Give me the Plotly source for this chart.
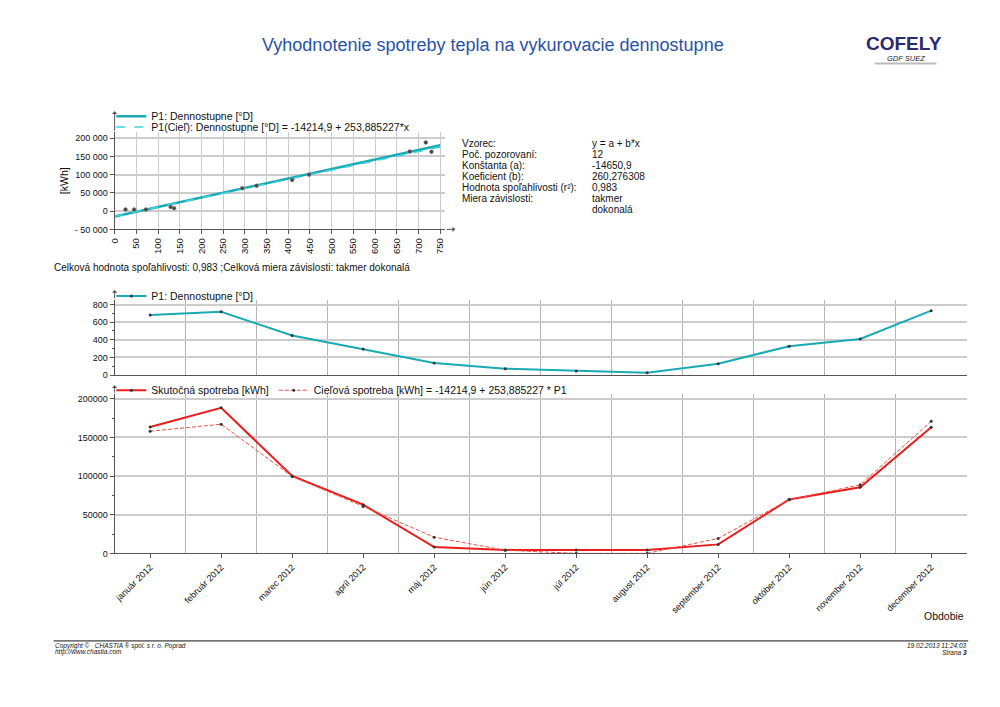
import plotly.graph_objects as go

FONT = "Liberation Sans, Arial, sans-serif"

# ---------------- data ----------------
months = ["január 2012", "február 2012", "marec 2012", "apríl 2012", "máj 2012", "jún 2012",
          "júl 2012", "august 2012", "september 2012", "október 2012", "november 2012", "december 2012"]
degree_days = [680, 717, 448, 294, 137, 72, 45, 25, 129, 327, 409, 730]
actual_kwh = [163600, 188400, 100200, 63000, 8100, 4300, 4300, 4500, 11600, 69800, 85600, 163200]
target_kwh = [158100, 167100, 99500, 60800, 20900, 4000, 0, 0, 19300, 69500, 88700, 171000]

# regression lines (read at x = 0 and x = 750)
fit_x = [0, 750]
fit_y = [-14650.9, 180556]
target_fit_y = [-14214.9, 176199]

scatter_x_ticks = list(range(0, 751, 50))
scatter_y_ticks = [200000, 150000, 100000, 50000, 0, -50000]
scatter_y_text = ["200 000", "150 000", "100 000", "50 000", "0", "- 50 000"]

stat_labels = ["Vzorec:", "Poč. pozorovaní:", "Konštanta (a):", "Koeficient (b):",
               "Hodnota spoľahlivosti (r²):", "Miera závislosti:", ""]
stat_values = ["y = a + b*x", "12", "-14650,9", "260,276308", "0,983", "takmer", "dokonalá"]

TEAL = "#1aaab4"
TEAL_L = "#3fd0d8"
RED = "#ec1c1c"
RED_L = "#f0504a"
MK = "#333333"
GRID = "#cccccc"
VGRID = "#b5b5b5"
AX = "#555555"

W, H = 1000, 707
def px(x): return x / W
def py(y): return 1 - y / H

fig = go.Figure()

# ---- scatter (top-left) ----
fig.add_trace(go.Scatter(x=fit_x, y=fit_y, mode="lines", name="P1: Dennostupne [°D]",
                         line=dict(color=TEAL, width=2.5), xaxis="x", yaxis="y", legend="legend"))
fig.add_trace(go.Scatter(x=fit_x, y=target_fit_y, mode="lines",
                         name="P1(Cieľ): Dennostupne [°D] = -14214,9 + 253,885227*x",
                         line=dict(color=TEAL_L, width=1.5, dash="dash"), xaxis="x", yaxis="y",
                         legend="legend4"))
fig.add_trace(go.Scatter(x=degree_days, y=actual_kwh, mode="markers", showlegend=False,
                         marker=dict(size=4, color="#444444", line=dict(color="#999999", width=0.5)),
                         xaxis="x", yaxis="y"))

# ---- middle: degree days ----
fig.add_trace(go.Scatter(x=list(range(len(months))), y=degree_days, mode="lines+markers",
                         name="P1: Dennostupne [°D]", line=dict(color=TEAL, width=2),
                         marker=dict(size=3, color=MK), xaxis="x2", yaxis="y2", legend="legend2"))

# ---- bottom: consumption ----
fig.add_trace(go.Scatter(x=list(range(len(months))), y=actual_kwh, mode="lines+markers",
                         name="Skutočná spotreba [kWh]", line=dict(color=RED, width=2),
                         marker=dict(size=3, color=MK), xaxis="x3", yaxis="y3", legend="legend3"))
fig.add_trace(go.Scatter(x=list(range(len(months))), y=target_kwh, mode="lines+markers",
                         name="Cieľová spotreba [kWh] = -14214,9 + 253,885227 * P1",
                         line=dict(color=RED_L, width=1, dash="4px,2px"),
                         marker=dict(size=3, color=MK), xaxis="x3", yaxis="y3", legend="legend3"))

tickfont = dict(family=FONT, size=9, color="#111111")
boundaries = [k - 0.5 for k in range(len(months) + 1)]

legend_common = dict(bgcolor="rgba(0,0,0,0)", borderwidth=0, xanchor="left", yanchor="middle",
                     font=dict(family=FONT, size=10.5, color="#111111"), itemclick=False)

fig.update_layout(
    width=W, height=H, margin=dict(l=0, r=0, t=0, b=0),
    paper_bgcolor="white", plot_bgcolor="white",
    font=dict(family=FONT, size=10, color="#111111"),
    xaxis=dict(domain=[px(109.3), px(442)], range=[0, 762], anchor="y",
               tickmode="array", tickvals=scatter_x_ticks, tickangle=-90,
               tickfont=dict(family=FONT, size=9.5, color="#111111"),
               showgrid=True, gridcolor=GRID, gridwidth=1, zeroline=False,
               showline=True, linecolor=AX, ticks="outside", ticklen=4, tickcolor=AX),
    yaxis=dict(domain=[py(231), py(133)], range=[-50000, 217000], anchor="x",
               tickmode="array", tickvals=scatter_y_ticks, ticktext=scatter_y_text, tickfont=tickfont,
               showgrid=True, gridcolor=GRID, gridwidth=1.5, zeroline=False,
               showline=True, linecolor=AX, ticks="outside", ticklen=4, tickcolor=AX,
               title=dict(text="[kWh]", font=dict(family=FONT, size=10.5), standoff=4)),
    xaxis2=dict(domain=[px(109.3), px(966.5)], range=[-0.5, 11.5], anchor="y2",
                tickmode="array", tickvals=list(range(len(months))), showticklabels=False,
                showgrid=False, zeroline=False, showline=True, linecolor=AX, ticks="",
                minor=dict(tickmode="array", tickvals=boundaries, showgrid=True,
                           gridcolor=VGRID, gridwidth=1, ticks="")),
    yaxis2=dict(domain=[py(377.7), py(301.7)], range=[0, 856], anchor="x2",
                tickmode="linear", tick0=0, dtick=200, tickfont=tickfont,
                showgrid=True, gridcolor=GRID, gridwidth=1.5, zeroline=False,
                showline=True, linecolor=AX, ticks="outside", ticklen=4, tickcolor=AX,
                minor=dict(dtick=100, ticks="outside", ticklen=2, tickcolor=AX, showgrid=False)),
    xaxis3=dict(domain=[px(109.3), px(966.5)], range=[-0.5, 11.5], anchor="y3",
                tickmode="array", tickvals=list(range(len(months))), ticktext=months,
                tickangle=-45, tickfont=tickfont,
                showgrid=False, zeroline=False, showline=True, linecolor=AX,
                ticks="outside", ticklen=4, tickcolor=AX,
                minor=dict(tickmode="array", tickvals=boundaries, showgrid=True,
                           gridcolor=VGRID, gridwidth=1, ticks="")),
    yaxis3=dict(domain=[py(557.3), py(396.7)], range=[0, 206400], anchor="x3",
                tickmode="linear", tick0=0, dtick=50000, tickformat="d", tickfont=tickfont,
                showgrid=True, gridcolor=GRID, gridwidth=1.5, zeroline=False,
                showline=True, linecolor=AX, ticks="outside", ticklen=4, tickcolor=AX,
                minor=dict(dtick=25000, ticks="outside", ticklen=2, tickcolor=AX, showgrid=False)),
    legend=dict(x=px(106), y=py(117), **legend_common),
    legend4=dict(x=px(106), y=py(128), **legend_common),
    legend2=dict(x=px(106), y=py(298), **legend_common),
    legend3=dict(x=px(106), y=py(393), orientation="h", **legend_common),
)

ann = []
# title
ann.append(dict(text="Vyhodnotenie spotreby tepla na vykurovacie dennostupne", x=px(490), y=py(45),
                xref="paper", yref="paper", showarrow=False, xanchor="center", yanchor="middle",
                font=dict(family=FONT, size=18, color="#2a52a8")))
# logo
ann.append(dict(text="<b>COFELY</b>", x=px(903), y=py(44), xref="paper", yref="paper",
                showarrow=False, xanchor="center", yanchor="middle",
                font=dict(family=FONT, size=19, color="#2b2a6e")))
ann.append(dict(text="<i>GDF SUEZ</i>", x=px(905), y=py(59), xref="paper", yref="paper",
                showarrow=False, xanchor="center", yanchor="middle",
                font=dict(family=FONT, size=7.5, color="#222222")))
# stats block
for i, (lab, val) in enumerate(zip(stat_labels, stat_values)):
    yy = py(145 + 11 * i)
    if lab:
        ann.append(dict(text=lab, x=px(457), y=yy, xref="paper", yref="paper", showarrow=False,
                        xanchor="left", yanchor="middle", font=dict(family=FONT, size=10)))
    ann.append(dict(text=val, x=px(588), y=yy, xref="paper", yref="paper", showarrow=False,
                    xanchor="left", yanchor="middle", font=dict(family=FONT, size=10)))
ann.append(dict(text="Celková hodnota spoľahlivosti: 0,983 ;Celková miera závislosti: takmer dokonalá",
                x=px(46), y=py(269), xref="paper", yref="paper", showarrow=False,
                xanchor="left", yanchor="middle", font=dict(family=FONT, size=10)))
ann.append(dict(text="Obdobie", x=px(966), y=py(620), xref="paper", yref="paper", showarrow=False,
                xanchor="right", yanchor="middle", font=dict(family=FONT, size=10.5)))
# footer
ft = dict(family=FONT, size=6.5, color="#111111")
ann.append(dict(text="<i>Copyright ©   CHASTIA ® spol. s r. o. Poprad</i>", x=px(47), y=py(650.5),
                xref="paper", yref="paper", showarrow=False, xanchor="left", yanchor="middle", font=ft))
ann.append(dict(text="<i>http://www.chastia.com</i>", x=px(47), y=py(656.5),
                xref="paper", yref="paper", showarrow=False, xanchor="left", yanchor="middle", font=ft))
ann.append(dict(text="<i>19.02.2013 11:24:03</i>", x=px(969), y=py(650.5),
                xref="paper", yref="paper", showarrow=False, xanchor="right", yanchor="middle", font=ft))
ann.append(dict(text="<i>Strana <b>3</b></i>", x=px(969), y=py(657.5),
                xref="paper", yref="paper", showarrow=False, xanchor="right", yanchor="middle", font=ft))
# axis arrows
for tip_y, tail_len in [(112, 21), (292, 10), (388, 9)]:
    ann.append(dict(text="", x=px(109.3), y=py(tip_y), xref="paper", yref="paper", showarrow=True,
                    ax=0, ay=tail_len, arrowhead=1, arrowsize=0.9, arrowwidth=1, arrowcolor=AX))
ann.append(dict(text="", x=px(452), y=py(231), xref="paper", yref="paper", showarrow=True,
                ax=-10, ay=0, arrowhead=1, arrowsize=0.9, arrowwidth=1, arrowcolor=AX))

fig.update_layout(annotations=ann)

fig.add_shape(type="line", xref="paper", yref="paper", x0=px(48), x1=px(968), y0=py(645.5), y1=py(645.5),
              line=dict(color="#111111", width=1))
fig.add_shape(type="line", xref="paper", yref="paper", x0=px(874), x1=px(936), y0=py(64), y1=py(64),
              line=dict(color="#bbbbbb", width=2))

fig.write_html("out.html", config={"displayModeBar": False},
               post_script="document.body.style.margin='0';document.body.style.overflow='hidden';")
